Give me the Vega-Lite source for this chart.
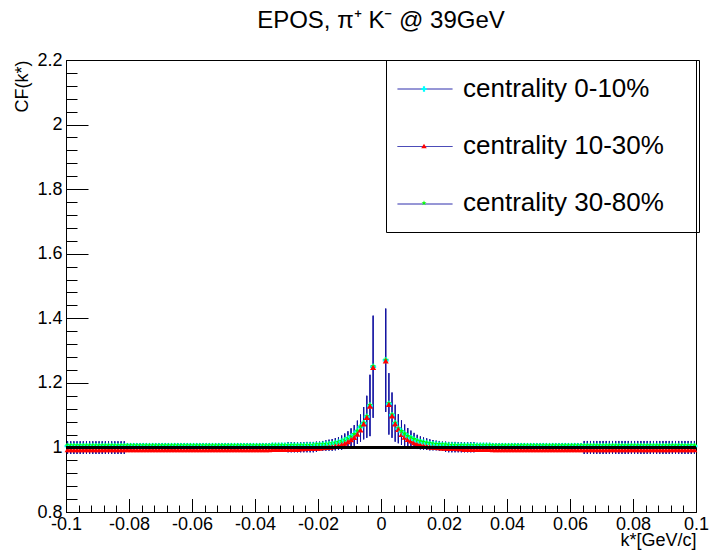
{
"$schema":"https://vega.github.io/schema/vega-lite/v6.json",
"width":630,"height":452,
"autosize":{"type":"none"},
"padding":{"left":66,"top":60,"right":14,"bottom":43},
"background":"white",
"title":{"text":"EPOS, π⁺ K⁻ @ 39GeV","fontSize":24,"font":"Liberation Sans","fontWeight":"normal","color":"black","anchor":"middle","offset":-1,"baseline":"alphabetic"},
"config":{"view":{"stroke":"black","strokeWidth":1},
"axis":{"labelFont":"Liberation Sans","titleFont":"Liberation Sans","labelColor":"black","titleColor":"black","tickColor":"black","grid":false,"domain":false,"labelFontSize":18,"titleFontSize":18,"titleFontWeight":"normal","labelFlush":false,"labelOverlap":false,"labelBound":false}},
"data":{"values":[
{"k":-0.0995,"cen":1.004,"mid":0.993,"per":1.006,"lo":0.98,"hi":1.019},
{"k":-0.0985,"cen":1.004,"mid":0.993,"per":1.006,"lo":0.98,"hi":1.019},
{"k":-0.0975,"cen":1.004,"mid":0.993,"per":1.006,"lo":0.98,"hi":1.019},
{"k":-0.0965,"cen":1.004,"mid":0.993,"per":1.006,"lo":0.98,"hi":1.019},
{"k":-0.0955,"cen":1.004,"mid":0.993,"per":1.006,"lo":0.98,"hi":1.019},
{"k":-0.0945,"cen":1.004,"mid":0.993,"per":1.006,"lo":0.98,"hi":1.019},
{"k":-0.0935,"cen":1.004,"mid":0.993,"per":1.006,"lo":0.98,"hi":1.019},
{"k":-0.0925,"cen":1.004,"mid":0.993,"per":1.006,"lo":0.98,"hi":1.019},
{"k":-0.0915,"cen":1.004,"mid":0.993,"per":1.006,"lo":0.98,"hi":1.019},
{"k":-0.0905,"cen":1.004,"mid":0.993,"per":1.006,"lo":0.98,"hi":1.019},
{"k":-0.0895,"cen":1.004,"mid":0.993,"per":1.006,"lo":0.98,"hi":1.019},
{"k":-0.0885,"cen":1.004,"mid":0.993,"per":1.006,"lo":0.98,"hi":1.019},
{"k":-0.0875,"cen":1.004,"mid":0.993,"per":1.006,"lo":0.98,"hi":1.019},
{"k":-0.0865,"cen":1.004,"mid":0.993,"per":1.006,"lo":0.98,"hi":1.019},
{"k":-0.0855,"cen":1.004,"mid":0.993,"per":1.006,"lo":0.98,"hi":1.019},
{"k":-0.0845,"cen":1.004,"mid":0.993,"per":1.006,"lo":0.98,"hi":1.019},
{"k":-0.0835,"cen":1.004,"mid":0.993,"per":1.006,"lo":0.98,"hi":1.019},
{"k":-0.0825,"cen":1.004,"mid":0.993,"per":1.006,"lo":0.98,"hi":1.019},
{"k":-0.0815,"cen":1.004,"mid":0.993,"per":1.006,"lo":0.98,"hi":1.019},
{"k":-0.0805,"cen":1.004,"mid":0.993,"per":1.006,"lo":0.986,"hi":1.013},
{"k":-0.0795,"cen":1.004,"mid":0.993,"per":1.006,"lo":0.986,"hi":1.013},
{"k":-0.0785,"cen":1.004,"mid":0.993,"per":1.006,"lo":0.986,"hi":1.013},
{"k":-0.0775,"cen":1.004,"mid":0.993,"per":1.006,"lo":0.986,"hi":1.013},
{"k":-0.0765,"cen":1.004,"mid":0.993,"per":1.006,"lo":0.986,"hi":1.013},
{"k":-0.0755,"cen":1.004,"mid":0.993,"per":1.006,"lo":0.986,"hi":1.013},
{"k":-0.0745,"cen":1.004,"mid":0.993,"per":1.006,"lo":0.986,"hi":1.013},
{"k":-0.0735,"cen":1.004,"mid":0.993,"per":1.006,"lo":0.986,"hi":1.013},
{"k":-0.0725,"cen":1.004,"mid":0.993,"per":1.006,"lo":0.986,"hi":1.013},
{"k":-0.0715,"cen":1.004,"mid":0.993,"per":1.006,"lo":0.986,"hi":1.013},
{"k":-0.0705,"cen":1.004,"mid":0.993,"per":1.006,"lo":0.986,"hi":1.013},
{"k":-0.0695,"cen":1.004,"mid":0.993,"per":1.006,"lo":0.986,"hi":1.013},
{"k":-0.0685,"cen":1.004,"mid":0.993,"per":1.006,"lo":0.986,"hi":1.013},
{"k":-0.0675,"cen":1.004,"mid":0.993,"per":1.006,"lo":0.986,"hi":1.013},
{"k":-0.0665,"cen":1.004,"mid":0.993,"per":1.006,"lo":0.986,"hi":1.013},
{"k":-0.0655,"cen":1.004,"mid":0.993,"per":1.006,"lo":0.986,"hi":1.013},
{"k":-0.0645,"cen":1.004,"mid":0.993,"per":1.006,"lo":0.986,"hi":1.013},
{"k":-0.0635,"cen":1.004,"mid":0.993,"per":1.006,"lo":0.986,"hi":1.013},
{"k":-0.0625,"cen":1.004,"mid":0.993,"per":1.006,"lo":0.986,"hi":1.013},
{"k":-0.0615,"cen":1.004,"mid":0.993,"per":1.006,"lo":0.986,"hi":1.013},
{"k":-0.0605,"cen":1.004,"mid":0.993,"per":1.006,"lo":0.986,"hi":1.013},
{"k":-0.0595,"cen":1.004,"mid":0.993,"per":1.006,"lo":0.986,"hi":1.013},
{"k":-0.0585,"cen":1.004,"mid":0.993,"per":1.006,"lo":0.986,"hi":1.013},
{"k":-0.0575,"cen":1.004,"mid":0.993,"per":1.006,"lo":0.986,"hi":1.013},
{"k":-0.0565,"cen":1.004,"mid":0.993,"per":1.006,"lo":0.986,"hi":1.013},
{"k":-0.0555,"cen":1.004,"mid":0.993,"per":1.006,"lo":0.986,"hi":1.013},
{"k":-0.0545,"cen":1.004,"mid":0.993,"per":1.006,"lo":0.986,"hi":1.013},
{"k":-0.0535,"cen":1.004,"mid":0.993,"per":1.006,"lo":0.986,"hi":1.013},
{"k":-0.0525,"cen":1.004,"mid":0.993,"per":1.006,"lo":0.986,"hi":1.013},
{"k":-0.0515,"cen":1.004,"mid":0.993,"per":1.006,"lo":0.986,"hi":1.013},
{"k":-0.0505,"cen":1.004,"mid":0.993,"per":1.006,"lo":0.986,"hi":1.013},
{"k":-0.0495,"cen":1.004,"mid":0.993,"per":1.006,"lo":0.986,"hi":1.013},
{"k":-0.0485,"cen":1.004,"mid":0.993,"per":1.006,"lo":0.986,"hi":1.013},
{"k":-0.0475,"cen":1.004,"mid":0.993,"per":1.006,"lo":0.986,"hi":1.013},
{"k":-0.0465,"cen":1.004,"mid":0.993,"per":1.006,"lo":0.986,"hi":1.013},
{"k":-0.0455,"cen":1.004,"mid":0.993,"per":1.006,"lo":0.986,"hi":1.013},
{"k":-0.0445,"cen":1.004,"mid":0.993,"per":1.006,"lo":0.986,"hi":1.013},
{"k":-0.0435,"cen":1.004,"mid":0.993,"per":1.006,"lo":0.986,"hi":1.013},
{"k":-0.0425,"cen":1.004,"mid":0.993,"per":1.006,"lo":0.986,"hi":1.013},
{"k":-0.0415,"cen":1.004,"mid":0.993,"per":1.006,"lo":0.986,"hi":1.013},
{"k":-0.0405,"cen":1.004,"mid":0.993,"per":1.006,"lo":0.986,"hi":1.013},
{"k":-0.0395,"cen":1.004,"mid":0.993,"per":1.006,"lo":0.986,"hi":1.013},
{"k":-0.0385,"cen":1.004,"mid":0.993,"per":1.006,"lo":0.986,"hi":1.013},
{"k":-0.0375,"cen":1.004,"mid":0.993,"per":1.006,"lo":0.986,"hi":1.013},
{"k":-0.0365,"cen":1.004,"mid":0.993,"per":1.006,"lo":0.986,"hi":1.013},
{"k":-0.0355,"cen":1.004,"mid":0.993,"per":1.006,"lo":0.986,"hi":1.013},
{"k":-0.0345,"cen":1.005,"mid":0.994,"per":1.007,"lo":0.986,"hi":1.014},
{"k":-0.0335,"cen":1.005,"mid":0.994,"per":1.007,"lo":0.986,"hi":1.014},
{"k":-0.0325,"cen":1.005,"mid":0.994,"per":1.007,"lo":0.986,"hi":1.014},
{"k":-0.0315,"cen":1.005,"mid":0.994,"per":1.007,"lo":0.986,"hi":1.014},
{"k":-0.0305,"cen":1.005,"mid":0.994,"per":1.007,"lo":0.986,"hi":1.014},
{"k":-0.0295,"cen":1.005,"mid":0.994,"per":1.007,"lo":0.985,"hi":1.016},
{"k":-0.0285,"cen":1.005,"mid":0.994,"per":1.007,"lo":0.985,"hi":1.016},
{"k":-0.0275,"cen":1.005,"mid":0.994,"per":1.007,"lo":0.985,"hi":1.016},
{"k":-0.0265,"cen":1.005,"mid":0.994,"per":1.007,"lo":0.985,"hi":1.016},
{"k":-0.0255,"cen":1.005,"mid":0.996,"per":1.007,"lo":0.985,"hi":1.016},
{"k":-0.0245,"cen":1.005,"mid":0.996,"per":1.007,"lo":0.985,"hi":1.016},
{"k":-0.0235,"cen":1.006,"mid":0.997,"per":1.008,"lo":0.985,"hi":1.017},
{"k":-0.0225,"cen":1.006,"mid":0.997,"per":1.008,"lo":0.985,"hi":1.017},
{"k":-0.0215,"cen":1.006,"mid":0.997,"per":1.008,"lo":0.985,"hi":1.017},
{"k":-0.0205,"cen":1.007,"mid":0.998,"per":1.009,"lo":0.986,"hi":1.018},
{"k":-0.0195,"cen":1.007,"mid":0.998,"per":1.009,"lo":0.99,"hi":1.018},
{"k":-0.0185,"cen":1.008,"mid":0.999,"per":1.01,"lo":0.99,"hi":1.02},
{"k":-0.0175,"cen":1.009,"mid":1.0,"per":1.011,"lo":0.99,"hi":1.022},
{"k":-0.0165,"cen":1.01,"mid":1.001,"per":1.012,"lo":0.99,"hi":1.024},
{"k":-0.0155,"cen":1.011,"mid":1.002,"per":1.013,"lo":0.99,"hi":1.026},
{"k":-0.0145,"cen":1.013,"mid":1.004,"per":1.015,"lo":0.991,"hi":1.029},
{"k":-0.0135,"cen":1.015,"mid":1.006,"per":1.017,"lo":0.992,"hi":1.032},
{"k":-0.0125,"cen":1.018,"mid":1.009,"per":1.02,"lo":0.993,"hi":1.037},
{"k":-0.0115,"cen":1.022,"mid":1.013,"per":1.024,"lo":0.995,"hi":1.043},
{"k":-0.0105,"cen":1.027,"mid":1.018,"per":1.029,"lo":0.998,"hi":1.05},
{"k":-0.0095,"cen":1.033,"mid":1.024,"per":1.035,"lo":1.001,"hi":1.059},
{"k":-0.0085,"cen":1.04,"mid":1.031,"per":1.042,"lo":1.005,"hi":1.069},
{"k":-0.0075,"cen":1.05,"mid":1.041,"per":1.052,"lo":1.011,"hi":1.083},
{"k":-0.0065,"cen":1.063,"mid":1.054,"per":1.065,"lo":1.018,"hi":1.102},
{"k":-0.0055,"cen":1.075,"mid":1.073,"per":1.077,"lo":1.025,"hi":1.125},
{"k":-0.0045,"cen":1.095,"mid":1.093,"per":1.097,"lo":1.03,"hi":1.16},
{"k":-0.0035,"cen":1.13,"mid":1.128,"per":1.132,"lo":1.035,"hi":1.225},
{"k":-0.0025,"cen":1.25,"mid":1.248,"per":1.252,"lo":1.092,"hi":1.408},
{"k":0.0015,"cen":1.27,"mid":1.268,"per":1.272,"lo":1.11,"hi":1.43},
{"k":0.0025,"cen":1.135,"mid":1.133,"per":1.137,"lo":1.04,"hi":1.23},
{"k":0.0035,"cen":1.1,"mid":1.098,"per":1.102,"lo":1.03,"hi":1.17},
{"k":0.0045,"cen":1.075,"mid":1.073,"per":1.077,"lo":1.018,"hi":1.132},
{"k":0.0055,"cen":1.058,"mid":1.056,"per":1.06,"lo":1.013,"hi":1.103},
{"k":0.0065,"cen":1.049,"mid":1.04,"per":1.051,"lo":1.008,"hi":1.084},
{"k":0.0075,"cen":1.041,"mid":1.032,"per":1.043,"lo":1.005,"hi":1.071},
{"k":0.0085,"cen":1.034,"mid":1.025,"per":1.036,"lo":1.002,"hi":1.06},
{"k":0.0095,"cen":1.029,"mid":1.02,"per":1.031,"lo":1.0,"hi":1.052},
{"k":0.0105,"cen":1.024,"mid":1.015,"per":1.026,"lo":0.997,"hi":1.045},
{"k":0.0115,"cen":1.02,"mid":1.011,"per":1.022,"lo":0.995,"hi":1.039},
{"k":0.0125,"cen":1.017,"mid":1.008,"per":1.019,"lo":0.994,"hi":1.034},
{"k":0.0135,"cen":1.015,"mid":1.006,"per":1.017,"lo":0.993,"hi":1.031},
{"k":0.0145,"cen":1.013,"mid":1.004,"per":1.015,"lo":0.992,"hi":1.028},
{"k":0.0155,"cen":1.011,"mid":1.002,"per":1.013,"lo":0.991,"hi":1.025},
{"k":0.0165,"cen":1.01,"mid":1.001,"per":1.012,"lo":0.991,"hi":1.023},
{"k":0.0175,"cen":1.009,"mid":1.0,"per":1.011,"lo":0.991,"hi":1.021},
{"k":0.0185,"cen":1.008,"mid":0.999,"per":1.01,"lo":0.99,"hi":1.02},
{"k":0.0195,"cen":1.007,"mid":0.998,"per":1.009,"lo":0.99,"hi":1.018},
{"k":0.0205,"cen":1.007,"mid":0.998,"per":1.009,"lo":0.986,"hi":1.018},
{"k":0.0215,"cen":1.006,"mid":0.997,"per":1.008,"lo":0.985,"hi":1.017},
{"k":0.0225,"cen":1.006,"mid":0.997,"per":1.008,"lo":0.985,"hi":1.017},
{"k":0.0235,"cen":1.006,"mid":0.997,"per":1.008,"lo":0.985,"hi":1.017},
{"k":0.0245,"cen":1.005,"mid":0.996,"per":1.007,"lo":0.985,"hi":1.016},
{"k":0.0255,"cen":1.005,"mid":0.996,"per":1.007,"lo":0.985,"hi":1.016},
{"k":0.0265,"cen":1.005,"mid":0.994,"per":1.007,"lo":0.985,"hi":1.016},
{"k":0.0275,"cen":1.005,"mid":0.994,"per":1.007,"lo":0.985,"hi":1.016},
{"k":0.0285,"cen":1.005,"mid":0.994,"per":1.007,"lo":0.985,"hi":1.016},
{"k":0.0295,"cen":1.005,"mid":0.994,"per":1.007,"lo":0.985,"hi":1.016},
{"k":0.0305,"cen":1.005,"mid":0.994,"per":1.007,"lo":0.986,"hi":1.014},
{"k":0.0315,"cen":1.005,"mid":0.994,"per":1.007,"lo":0.986,"hi":1.014},
{"k":0.0325,"cen":1.005,"mid":0.994,"per":1.007,"lo":0.986,"hi":1.014},
{"k":0.0335,"cen":1.005,"mid":0.994,"per":1.007,"lo":0.986,"hi":1.014},
{"k":0.0345,"cen":1.005,"mid":0.994,"per":1.007,"lo":0.986,"hi":1.014},
{"k":0.0355,"cen":1.004,"mid":0.993,"per":1.006,"lo":0.986,"hi":1.013},
{"k":0.0365,"cen":1.004,"mid":0.993,"per":1.006,"lo":0.986,"hi":1.013},
{"k":0.0375,"cen":1.004,"mid":0.993,"per":1.006,"lo":0.986,"hi":1.013},
{"k":0.0385,"cen":1.004,"mid":0.993,"per":1.006,"lo":0.986,"hi":1.013},
{"k":0.0395,"cen":1.004,"mid":0.993,"per":1.006,"lo":0.986,"hi":1.013},
{"k":0.0405,"cen":1.004,"mid":0.993,"per":1.006,"lo":0.986,"hi":1.013},
{"k":0.0415,"cen":1.004,"mid":0.993,"per":1.006,"lo":0.986,"hi":1.013},
{"k":0.0425,"cen":1.004,"mid":0.993,"per":1.006,"lo":0.986,"hi":1.013},
{"k":0.0435,"cen":1.004,"mid":0.993,"per":1.006,"lo":0.986,"hi":1.013},
{"k":0.0445,"cen":1.004,"mid":0.993,"per":1.006,"lo":0.986,"hi":1.013},
{"k":0.0455,"cen":1.004,"mid":0.993,"per":1.006,"lo":0.986,"hi":1.013},
{"k":0.0465,"cen":1.004,"mid":0.993,"per":1.006,"lo":0.986,"hi":1.013},
{"k":0.0475,"cen":1.004,"mid":0.993,"per":1.006,"lo":0.986,"hi":1.013},
{"k":0.0485,"cen":1.004,"mid":0.993,"per":1.006,"lo":0.986,"hi":1.013},
{"k":0.0495,"cen":1.004,"mid":0.993,"per":1.006,"lo":0.986,"hi":1.013},
{"k":0.0505,"cen":1.004,"mid":0.993,"per":1.006,"lo":0.986,"hi":1.013},
{"k":0.0515,"cen":1.004,"mid":0.993,"per":1.006,"lo":0.986,"hi":1.013},
{"k":0.0525,"cen":1.004,"mid":0.993,"per":1.006,"lo":0.986,"hi":1.013},
{"k":0.0535,"cen":1.004,"mid":0.993,"per":1.006,"lo":0.986,"hi":1.013},
{"k":0.0545,"cen":1.004,"mid":0.993,"per":1.006,"lo":0.986,"hi":1.013},
{"k":0.0555,"cen":1.004,"mid":0.993,"per":1.006,"lo":0.986,"hi":1.013},
{"k":0.0565,"cen":1.004,"mid":0.993,"per":1.006,"lo":0.986,"hi":1.013},
{"k":0.0575,"cen":1.004,"mid":0.993,"per":1.006,"lo":0.986,"hi":1.013},
{"k":0.0585,"cen":1.004,"mid":0.993,"per":1.006,"lo":0.986,"hi":1.013},
{"k":0.0595,"cen":1.004,"mid":0.993,"per":1.006,"lo":0.986,"hi":1.013},
{"k":0.0605,"cen":1.004,"mid":0.993,"per":1.006,"lo":0.986,"hi":1.013},
{"k":0.0615,"cen":1.004,"mid":0.993,"per":1.006,"lo":0.986,"hi":1.013},
{"k":0.0625,"cen":1.004,"mid":0.993,"per":1.006,"lo":0.986,"hi":1.013},
{"k":0.0635,"cen":1.004,"mid":0.993,"per":1.006,"lo":0.986,"hi":1.013},
{"k":0.0645,"cen":1.004,"mid":0.993,"per":1.006,"lo":0.98,"hi":1.02},
{"k":0.0655,"cen":1.004,"mid":0.993,"per":1.006,"lo":0.98,"hi":1.02},
{"k":0.0665,"cen":1.004,"mid":0.993,"per":1.006,"lo":0.98,"hi":1.02},
{"k":0.0675,"cen":1.004,"mid":0.993,"per":1.006,"lo":0.98,"hi":1.02},
{"k":0.0685,"cen":1.004,"mid":0.993,"per":1.006,"lo":0.98,"hi":1.02},
{"k":0.0695,"cen":1.004,"mid":0.993,"per":1.006,"lo":0.98,"hi":1.02},
{"k":0.0705,"cen":1.004,"mid":0.993,"per":1.006,"lo":0.98,"hi":1.02},
{"k":0.0715,"cen":1.004,"mid":0.993,"per":1.006,"lo":0.98,"hi":1.02},
{"k":0.0725,"cen":1.004,"mid":0.993,"per":1.006,"lo":0.98,"hi":1.02},
{"k":0.0735,"cen":1.004,"mid":0.993,"per":1.006,"lo":0.98,"hi":1.02},
{"k":0.0745,"cen":1.004,"mid":0.993,"per":1.006,"lo":0.98,"hi":1.02},
{"k":0.0755,"cen":1.004,"mid":0.993,"per":1.006,"lo":0.98,"hi":1.02},
{"k":0.0765,"cen":1.004,"mid":0.993,"per":1.006,"lo":0.98,"hi":1.02},
{"k":0.0775,"cen":1.004,"mid":0.993,"per":1.006,"lo":0.98,"hi":1.02},
{"k":0.0785,"cen":1.004,"mid":0.993,"per":1.006,"lo":0.98,"hi":1.02},
{"k":0.0795,"cen":1.004,"mid":0.993,"per":1.006,"lo":0.98,"hi":1.02},
{"k":0.0805,"cen":1.004,"mid":0.993,"per":1.006,"lo":0.98,"hi":1.02},
{"k":0.0815,"cen":1.004,"mid":0.993,"per":1.006,"lo":0.98,"hi":1.02},
{"k":0.0825,"cen":1.004,"mid":0.993,"per":1.006,"lo":0.98,"hi":1.02},
{"k":0.0835,"cen":1.004,"mid":0.993,"per":1.006,"lo":0.98,"hi":1.02},
{"k":0.0845,"cen":1.004,"mid":0.993,"per":1.006,"lo":0.98,"hi":1.02},
{"k":0.0855,"cen":1.004,"mid":0.993,"per":1.006,"lo":0.98,"hi":1.02},
{"k":0.0865,"cen":1.004,"mid":0.993,"per":1.006,"lo":0.98,"hi":1.02},
{"k":0.0875,"cen":1.004,"mid":0.993,"per":1.006,"lo":0.98,"hi":1.02},
{"k":0.0885,"cen":1.004,"mid":0.993,"per":1.006,"lo":0.98,"hi":1.02},
{"k":0.0895,"cen":1.004,"mid":0.993,"per":1.006,"lo":0.98,"hi":1.02},
{"k":0.0905,"cen":1.004,"mid":0.993,"per":1.006,"lo":0.98,"hi":1.02},
{"k":0.0915,"cen":1.004,"mid":0.993,"per":1.006,"lo":0.98,"hi":1.02},
{"k":0.0925,"cen":1.004,"mid":0.993,"per":1.006,"lo":0.98,"hi":1.02},
{"k":0.0935,"cen":1.004,"mid":0.993,"per":1.006,"lo":0.98,"hi":1.02},
{"k":0.0945,"cen":1.004,"mid":0.993,"per":1.006,"lo":0.98,"hi":1.02},
{"k":0.0955,"cen":1.004,"mid":0.993,"per":1.006,"lo":0.98,"hi":1.02},
{"k":0.0965,"cen":1.004,"mid":0.993,"per":1.006,"lo":0.98,"hi":1.02},
{"k":0.0975,"cen":1.004,"mid":0.993,"per":1.006,"lo":0.98,"hi":1.02},
{"k":0.0985,"cen":1.004,"mid":0.993,"per":1.006,"lo":0.98,"hi":1.02},
{"k":0.0995,"cen":1.004,"mid":0.993,"per":1.006,"lo":0.98,"hi":1.02}
]},
"layer":[
{"transform":[{"fold":["cen","per","mid"],"as":["ser","val"]}],
 "mark":{"type":"rule","color":"#1010a0","strokeWidth":1},
 "encoding":{
  "x":{"field":"k","type":"quantitative","scale":{"domain":[-0.1,0.1],"nice":false,"zero":false},
       "axis":{"orient":"bottom","values":[-0.1,-0.08,-0.06,-0.04,-0.02,0,0.02,0.04,0.06,0.08,0.1],"tickSize":-13.5,"labelPadding":17,"format":"~g","labelExpr":"replace(datum.label,'−','-')","title":"k*[GeV/c]","titleX":630,"titleY":28,"titleAlign":"right","titleBaseline":"middle","titleAnchor":"end"}},
  "y":{"field":"lo","type":"quantitative","scale":{"domain":[0.8,2.2],"nice":false,"zero":false},
       "axis":{"orient":"left","values":[0.8,1,1.2,1.4,1.6,1.8,2,2.2],"tickSize":-22,"labelPadding":26,"format":"~g","title":"CF(k*)","titleX":-44,"titleY":0,"titleAlign":"right","titleAngle":-90,"titleBaseline":"middle","titleAnchor":"end"}},
  "y2":{"field":"hi"},
  "strokeDash":{"field":"ser","type":"nominal","scale":{"range":[[1,0],[1,0],[1,0]]},
       "legend":{"orient":"none","legendX":331,"legendY":1,"title":null,"padding":0,"symbolType":"stroke","symbolSize":3025,"symbolStrokeColor":"#1010a0","symbolStrokeWidth":1,"rowPadding":27.5,"labelExpr":"''","labelFontSize":4}}
 }},
{"transform":[{"fold":["cen","per","mid"],"as":["series","cf"]}],
 "mark":{"type":"point","filled":true,"size":36,"opacity":1},
 "encoding":{
  "x":{"field":"k","type":"quantitative","axis":{"orient":"bottom","values":[-0.1,-0.096,-0.092,-0.088,-0.084,-0.08,-0.076,-0.072,-0.068,-0.064,-0.06,-0.056,-0.052,-0.048,-0.044,-0.04,-0.036,-0.032,-0.028,-0.024,-0.02,-0.016,-0.012,-0.008,-0.004,0,0.004,0.008,0.012,0.016,0.02,0.024,0.028,0.032,0.036,0.04,0.044,0.048,0.052,0.056,0.06,0.064,0.068,0.072,0.076,0.08,0.084,0.088,0.092,0.096,0.1],"tickSize":-7,"labels":false,"title":null}},
  "y":{"field":"cf","type":"quantitative","axis":{"orient":"left","values":[0.8,0.84,0.88,0.92,0.96,1,1.04,1.08,1.12,1.16,1.2,1.24,1.28,1.32,1.36,1.4,1.44,1.48,1.52,1.56,1.6,1.64,1.68,1.72,1.76,1.8,1.84,1.88,1.92,1.96,2,2.04,2.08,2.12,2.16,2.2],"tickSize":-11,"labels":false,"title":null}},
  "color":{"field":"series","type":"nominal","scale":{"domain":["cen","mid","per"],"range":["#00ffff","#ff0000","#00ff00"]},
       "legend":{"orient":"none","legendX":320,"legendY":0,"title":null,"padding":16,"strokeColor":"black","symbolOffset":9,"labelOffset":26,"rowPadding":31,"labelFontSize":26,"labelFont":"Liberation Sans","labelColor":"black","labelLimit":500,"symbolSize":30,"symbolStrokeWidth":0,"symbolOpacity":1,"labelExpr":"(datum.label == 'cen' ? 'centrality 0-10%' : datum.label == 'mid' ? 'centrality 10-30%' : 'centrality 30-80%') + '\u2800'"}},
  "shape":{"field":"series","type":"nominal","scale":{"domain":["cen","mid","per"],"range":["cross","triangle-up","M0,-1L0.223,-0.307L0.951,-0.309L0.361,0.117L0.588,0.809L0,0.38L-0.588,0.809L-0.361,0.117L-0.951,-0.309L-0.223,-0.307Z"]},
       "legend":{"orient":"none","legendX":320,"legendY":0,"title":null,"padding":16,"strokeColor":"black","symbolOffset":9,"labelOffset":26,"rowPadding":31,"labelFontSize":26,"labelFont":"Liberation Sans","labelColor":"black","labelLimit":500,"symbolSize":30,"symbolStrokeWidth":0,"symbolOpacity":1,"labelExpr":"(datum.label == 'cen' ? 'centrality 0-10%' : datum.label == 'mid' ? 'centrality 10-30%' : 'centrality 30-80%') + '\u2800'"}}
 }},
{"mark":{"type":"rule","color":"black","strokeWidth":2},
 "encoding":{"y":{"datum":1,"type":"quantitative","axis":null}}}
],
"resolve":{"axis":{"x":"independent","y":"independent"}}
}
